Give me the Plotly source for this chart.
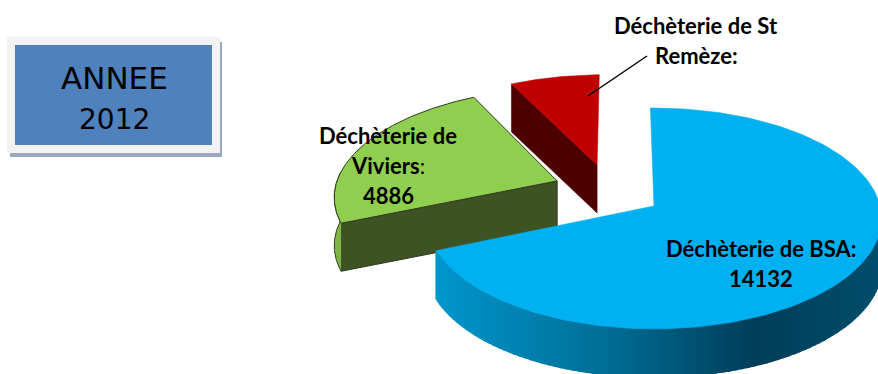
import numpy as np
import plotly.graph_objects as go

categories = ["Déchèterie de BSA", "Déchèterie de Viviers", "Déchèterie de St Remèze"]
values = [14132, 4886, 1500]

# view of the tilted pie (pixels)
CX, CY, RX, RY, K, DEPTH, ROT = 654.0, 206.0, 226.0, 109.0, 0.113, 48.0, -1.0
EXPLODE = [(0.0, 0.0), (-0.44, 0.236), (-0.263, 0.393)]
TOPS = ["#00b0f0", "#8fce4f", "#c00000"]
CUTS = ["#00506e", "#3d5323", "#4d0000"]
ARCS = ["#0090c4", "#7fb446", "#8f0000"]
LINES = [None, "#2f3a20", None]


def project(theta_deg, radius, offset, drop=0.0):
    t = np.radians(theta_deg)
    u = radius * np.sin(t) + offset[0]
    v = radius * np.cos(t) + offset[1]
    s = 1 + K * v
    return CX + RX * u / s, CY - RY * v / s + drop


def poly(x, y, color, line=None, width=None):
    return go.Scatter(
        x=list(x), y=list(y), mode="lines", fill="toself", fillcolor=color,
        line=dict(color=line or color, width=width or (1 if line else 0.6)),
        hoverinfo="skip", showlegend=False,
    )


def blue_shade(x):
    stops = [(437, (0, 150, 204)), (600, (0, 112, 152)), (752, (0, 62, 90)), (878, (0, 78, 108))]
    xs = [p[0] for p in stops]
    c = [np.interp(x, xs, [p[1][i] for p in stops]) for i in range(3)]
    return "rgb(%d,%d,%d)" % tuple(int(a) for a in c)


fractions = np.array(values) / sum(values)
edges = np.concatenate([[0], np.cumsum(fractions) * 360]) + ROT
fig = go.Figure()

# far slices first, the main slice last
for i in [2, 1, 0]:
    a0, a1 = edges[i], edges[i + 1]
    off = EXPLODE[i]
    th = np.linspace(a0, a1, 160)
    ax, ay = project(th, 1.0, off)
    px, py = project(0, 0.0, off)

    # cut face at the start of the slice, running from apex to the rim
    ex, ey = project(a0, 1.0, off)
    if i in (1, 2):
        fig.add_trace(poly([px, ex, ex, px, px], [py, ey, ey + DEPTH, py + DEPTH, py],
                           CUTS[i], LINES[i]))
    # rim
    if i == 0:
        for j in range(len(th) - 1):
            if 90 < th[j] < a1:
                xa, xb = ax[j], ax[j + 1]
                fig.add_trace(poly([xa, xb, xb, xa, xa],
                                   [ay[j], ay[j + 1], ay[j + 1] + DEPTH, ay[j] + DEPTH, ay[j]],
                                   blue_shade((xa + xb) / 2), width=2))
    elif i == 1:
        mask = th < 275
        fig.add_trace(poly(list(ax[mask]) + list(ax[mask][::-1]),
                           list(ay[mask]) + list(ay[mask][::-1] + DEPTH), ARCS[i], LINES[i]))
    # top
    fig.add_trace(poly([px, *ax, px], [py, *ay, py], TOPS[i], LINES[i]))

shapes = [
    dict(type="rect", x0=10, y0=42, x1=222, y1=157, fillcolor="#9aa9bf", line_width=0, layer="below"),
    dict(type="rect", x0=7, y0=37, x1=220, y1=153, fillcolor="#f2f2f2", line_width=0, layer="below"),
    dict(type="rect", x0=15, y0=45, x1=212, y1=145, fillcolor="#4f81bd", line_width=0, layer="below"),
    dict(type="line", x0=647, y0=56, x1=588, y1=96, line=dict(color="#000000", width=1.5)),
]


def label(x, y, text, size=22, family="Lato"):
    return dict(x=x, y=y, text=text, showarrow=False, xanchor="center", yanchor="middle",
                font=dict(family=family, size=size, color="#000000"))


annotations = [
    label(696, 25, "<b>Déchèterie de St</b>"),
    label(696, 55, "<b>Remèze:</b>"),
    label(388, 135, "<b>Déchèterie de</b>"),
    label(388, 165, "<b>Viviers</b>:"),
    label(388, 195, "<b>4886</b>"),
    label(761, 248, "<b>Déchèterie de BSA:</b>"),
    label(761, 278, "<b>14132</b>"),
    label(114, 78, "ANNEE", size=31, family="DejaVu Sans"),
    label(114, 119, "2012", size=28, family="DejaVu Sans"),
]

fig.update_layout(
    width=878, height=374, margin=dict(l=0, r=0, t=0, b=0),
    paper_bgcolor="#ffffff", plot_bgcolor="#ffffff", showlegend=False,
    xaxis=dict(range=[0, 878], visible=False, fixedrange=True),
    yaxis=dict(range=[374, 0], visible=False, fixedrange=True),
    shapes=shapes, annotations=annotations,
)
fig.write_html(
    "out.html",
    config=dict(displayModeBar=False),
    post_script="document.body.style.margin='0';document.body.style.overflow='hidden';",
)
